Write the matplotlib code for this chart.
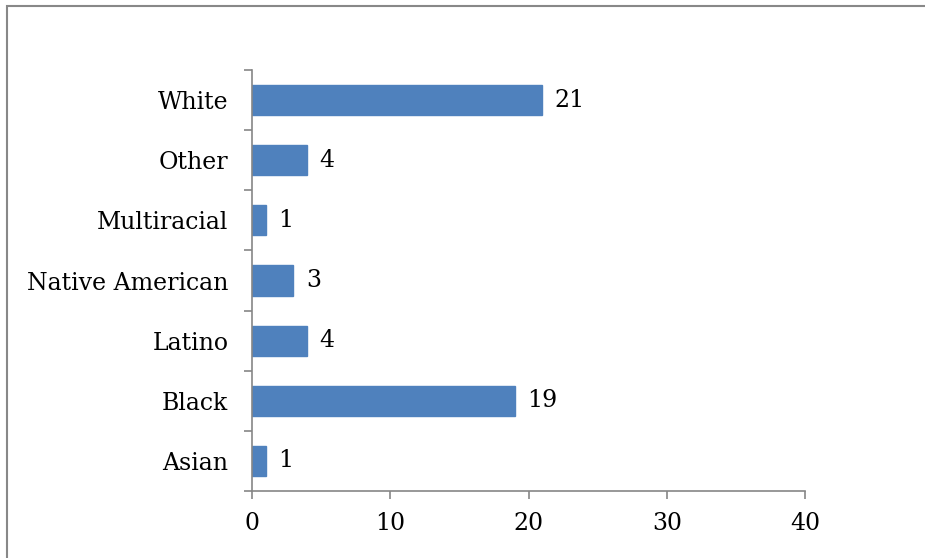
import numpy as np
import matplotlib.pyplot as plt
from matplotlib.patches import Rectangle

categories = ["Asian", "Black", "Latino", "Native American", "Multiracial", "Other", "White"]
counts = [1, 19, 4, 3, 1, 4, 21]
x_ticks = [0, 10, 20, 30, 40]

plt.rcParams['font.family'] = ['DejaVu Serif']

fig = plt.figure(figsize=(9.25, 5.58), dpi=100)
ax = fig.add_axes([252/925, 67/558, 553/925, 421/558])

# рамка вокруг диаграммы (видны только левая и верхняя стороны)
fig.patches.append(Rectangle((7/925, -0.1), 1.2, (558 - 6)/558 + 0.1,
                             transform=fig.transFigure, fill=False,
                             edgecolor='#888888', linewidth=1.5))

ypos = np.arange(len(categories))
ax.barh(ypos, counts, height=0.5, color='#4F81BD', edgecolor='#4F81BD')
for y, v in zip(ypos, counts):
    ax.text(v + 0.9, y, str(v), va='center', ha='left', fontsize=17)

ax.set_xlim(0, 40)
ax.set_ylim(-0.5, len(categories) - 0.5)
ax.set_xticks(x_ticks)
ax.set_xticklabels([str(t) for t in x_ticks], fontsize=17)
ax.set_yticks(ypos)
ax.set_yticklabels(categories, fontsize=17)
ax.set_yticks(np.arange(-0.5, len(categories)), minor=True)
ax.tick_params(axis='y', which='major', length=0, pad=17)
ax.tick_params(axis='y', which='minor', length=6, color='#868686', width=1.2)
ax.tick_params(axis='x', length=6, color='#868686', width=1.2, pad=9)

for s in ['top', 'right']:
    ax.spines[s].set_visible(False)
for s in ['left', 'bottom']:
    ax.spines[s].set_color('#868686')
    ax.spines[s].set_linewidth(1.2)

fig.savefig("out.png", dpi=100)
